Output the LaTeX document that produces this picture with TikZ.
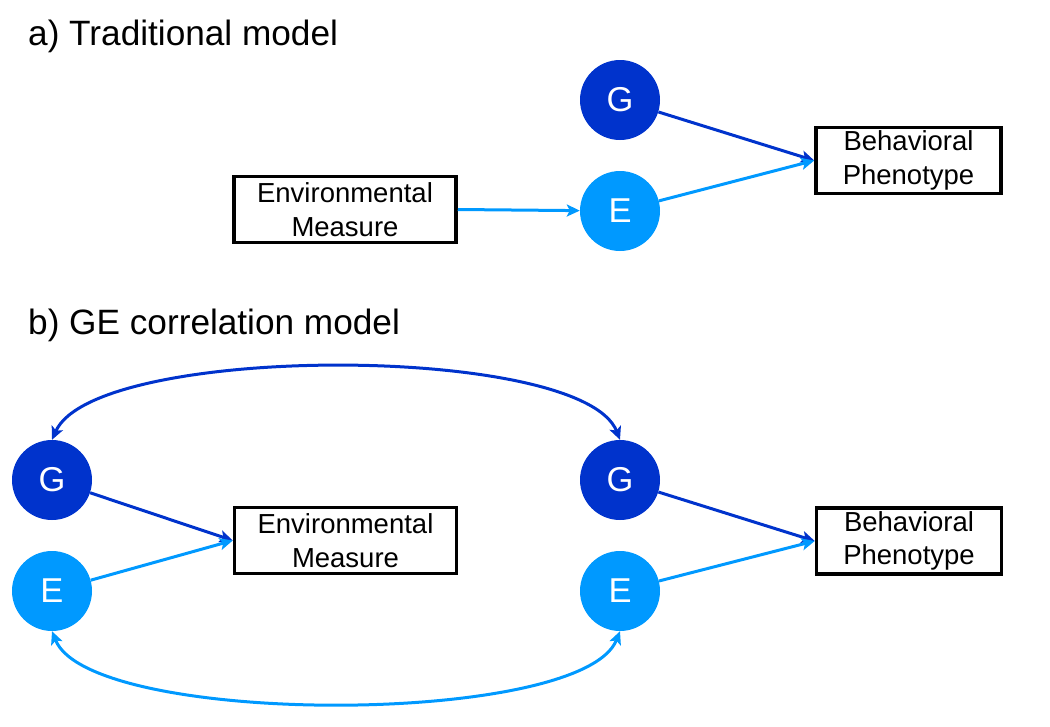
\documentclass[tikz,border=0pt]{standalone}
\usepackage{fontspec}
\setmainfont{Liberation Sans}
\usetikzlibrary{arrows.meta}
\definecolor{gblue}{HTML}{0033CC}
\definecolor{eblue}{HTML}{0099FF}
\begin{document}
\begin{tikzpicture}[x=1pt,y=-1pt,
  gcirc/.style={circle,fill=gblue,minimum size=80pt,inner sep=0pt,text=white,font=\fontsize{34.5}{38}\selectfont},
  ecirc/.style={circle,fill=eblue,minimum size=80pt,inner sep=0pt,text=white,font=\fontsize{34.5}{38}\selectfont},
  mbox/.style={draw=black,line width=3.5pt,align=center,inner sep=0pt,font=\fontsize{27.5}{33.5}\selectfont},
  title/.style={anchor=base west,inner sep=0pt,font=\fontsize{35.2}{40}\selectfont},
  garrow/.style={draw=gblue,line width=3pt,-{Stealth[length=13pt,width=12pt,inset=3pt]}},
  earrow/.style={draw=eblue,line width=3pt,-{Stealth[length=13pt,width=12pt,inset=3pt]}},
  gdouble/.style={draw=gblue,line width=3pt,{Stealth[length=13pt,width=12pt,inset=3pt]}-{Stealth[length=13pt,width=12pt,inset=3pt]}},
  edouble/.style={draw=eblue,line width=3pt,{Stealth[length=13pt,width=12pt,inset=3pt]}-{Stealth[length=13pt,width=12pt,inset=3pt]}}]
\useasboundingbox (0,0) rectangle (1050,726);
% a) Traditional model
\node[title] (ta) at (28,45) {a) Traditional model};
\node[gcirc] (Ga) at (620,100) {G};
\node[ecirc] (Ea) at (620,211) {E};
\node[mbox,minimum width=222pt,minimum height=66pt] (EMa) at (345,209.5) {Environmental\\Measure};
\node[mbox,minimum width=185pt,minimum height=66pt] (BPa) at (908.5,160.5) {Behavioral\\Phenotype};
\draw[earrow] (EMa.east) -- (Ea);
\draw[garrow] (Ga) -- (BPa.west);
\draw[earrow] (Ea) -- (BPa.west);
% b) GE correlation model
\node[title] (tb) at (28,334) {b) GE correlation model};
\node[gcirc] (GbL) at (52,480) {G};
\node[ecirc] (EbL) at (52,591) {E};
\node[gcirc] (GbR) at (620,480) {G};
\node[ecirc] (EbR) at (620,591) {E};
\node[mbox,minimum width=222pt,minimum height=66pt] (EMb) at (345.5,540.5) {Environmental\\Measure};
\node[mbox,minimum width=185pt,minimum height=66pt] (BPb) at (909,541) {Behavioral\\Phenotype};
\draw[garrow] (GbL) -- (EMb.west);
\draw[earrow] (EbL) -- (EMb.west);
\draw[garrow] (GbR) -- (BPb.west);
\draw[earrow] (EbR) -- (BPb.west);
\draw[gdouble] (GbL.north) .. controls (95,343) and (582,343) .. (GbR.north);
\draw[edouble] (EbL.south) .. controls (90,727) and (582,727) .. (EbR.south);
\end{tikzpicture}
\end{document}
